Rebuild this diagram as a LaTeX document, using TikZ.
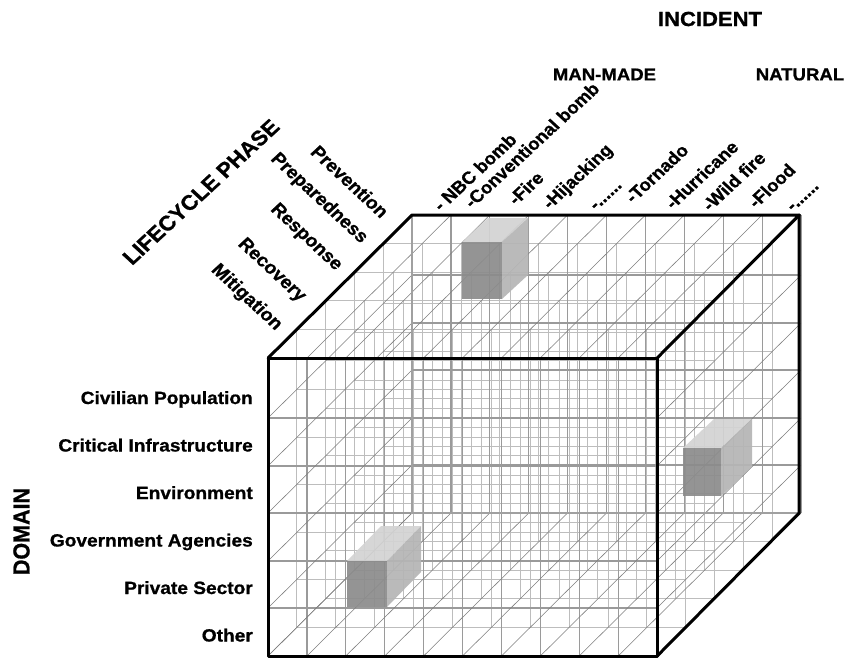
\documentclass[tikz,border=0pt]{standalone}
\usepackage{fontspec}
\setmainfont[BoldFeatures={FakeBold=0.9}]{Liberation Sans}
\definecolor{gridfb}{HTML}{9A9A9A}
\definecolor{gridin}{HTML}{BDBDBD}
\definecolor{griddg}{HTML}{7E7E7E}
\definecolor{hidden}{HTML}{A0A0A0}
\definecolor{boxfront}{HTML}{8C8C8C}
\definecolor{boxside}{HTML}{B5B5B5}
\definecolor{boxtop}{HTML}{D3D3D3}
\tikzset{
  fbline/.style={draw=gridfb, line width=1.2pt},
  inline/.style={draw=gridin, line width=1pt},
  dgline/.style={draw=griddg, line width=0.55pt},
  hiddenedge/.style={draw=hidden, line width=2.2pt},
  cubeedge/.style={draw=black, line width=3pt, line join=round, line cap=round},
  lbl/.style={inner sep=0pt, text=black},
  domlbl/.style={lbl, anchor=base east, font=\fontsize{17.7}{20}\selectfont\bfseries},
  inclbl/.style={lbl, anchor=base west, rotate=45, font=\fontsize{17.4}{20}\selectfont\bfseries},
  phlbl/.style={lbl, anchor=center, rotate=-45, font=\fontsize{18}{21}\selectfont\bfseries},
  headlbl/.style={lbl, anchor=center, font=\fontsize{17.2}{20}\selectfont\bfseries},
  bigflbl/.style={lbl, anchor=center, font=\fontsize{21}{24}\selectfont\bfseries},
  bxf/.style={fill=boxfront, fill opacity=0.93},
  bxs/.style={fill=boxside, fill opacity=0.93},
  bxt/.style={fill=boxtop, fill opacity=0.93}
}
\begin{document}
\begin{tikzpicture}[x=0.925926pt, y=-1pt, xscale=1.08, transform shape]
\useasboundingbox (0,0) rectangle (849,658);
% cube corners
\coordinate (FTL) at (268,358);
\coordinate (FTR) at (657,358);
\coordinate (FBL) at (268,656);
\coordinate (FBR) at (657,656);
\coordinate (BTL) at (412,215);
\coordinate (BTR) at (799,215);
\coordinate (BBL) at (412,513);
\coordinate (BBR) at (799,513);

% interior planes (lighter)
\foreach \d in {1,...,4}{
  \foreach \i in {0,...,10}{
    \draw[inline] ({268+38.9*\i+28.8*\d},{358-28.6*\d}) -- ++(0,298);
  }
  \foreach \yy in {358,418,466,513,561,608,656}{
    \draw[inline] ({268+28.8*\d},{\yy-28.6*\d}) -- ++(389,0);
  }
}
% front and back planes
\foreach \d in {0,5}{
  \foreach \i in {0,...,10}{
    \draw[fbline] ({268+38.9*\i+28.8*\d},{358-28.6*\d}) -- ++(0,298);
  }
  \foreach \yy in {358,418,466,513,561,608,656}{
    \draw[fbline] ({268+28.8*\d},{\yy-28.6*\d}) -- ++(389,0);
  }
}
% depth lines on top, bottom, left, right faces
\foreach \i in {0,...,10}{
  \draw[dgline] ({268+38.9*\i},358) -- ++(144,-143);
  \draw[dgline] ({268+38.9*\i},656) -- ++(144,-143);
}
\foreach \yy in {358,418,466,513,561,608,656}{
  \draw[dgline] (268,\yy) -- ++(144,-143);
  \draw[dgline] (657,\yy) -- ++(144,-143);
}
% hidden edges
\draw[hiddenedge] (BTL) -- (BBL) -- (BBR);

% boxes
\fill[bxt] (462,242) -- (502,242) -- (528,218) -- (488,218) -- cycle;
\fill[bxs] (502,242) -- (528,218) -- (528,275) -- (502,299) -- cycle;
\fill[bxf] (462,242) rectangle (502,299);

\fill[bxt] (683,448) -- (721,448) -- (752,419) -- (714,419) -- cycle;
\fill[bxs] (721,448) -- (752,419) -- (752,467) -- (721,496) -- cycle;
\fill[bxf] (683,448) rectangle (721,496);

\fill[bxt] (347,561) -- (387,561) -- (421,526) -- (381,526) -- cycle;
\fill[bxs] (387,561) -- (421,526) -- (421,572) -- (387,607) -- cycle;
\fill[bxf] (347,561) rectangle (387,607);

% cube outline
\draw[cubeedge] (FTL) rectangle (FBR);
\draw[cubeedge] (FTL) -- (BTL) -- (BTR) -- (FTR);
\draw[cubeedge] (BTR) -- (BBR) -- (FBR);

% domain labels
\node[domlbl] (d1) at (253,404) {Civilian Population};
\node[domlbl] (d2) at (253,451.5) {Critical Infrastructure};
\node[domlbl] (d3) at (253,499) {Environment};
\node[domlbl] (d4) at (253,546.5) {Government Agencies};
\node[domlbl] (d5) at (253,594) {Private Sector};
\node[domlbl] (d6) at (253,641.5) {Other};
\node[bigflbl, rotate=90, font=\fontsize{21.5}{24}\selectfont\bfseries] (domain) at (21.5,531.5) {DOMAIN};

% incident labels
\node[inclbl] (i1) at (441,212) {- NBC bomb};
\node[inclbl] (i2) at (472,209) {-Conventional bomb};
\node[inclbl] (i3) at (516,206) {-Fire};
\node[inclbl] (i4) at (550,210) {-Hijacking};
\node[inclbl] (i5) at (596,211) {-......};
\node[inclbl] (i6) at (633,204) {-Tornado};
\node[inclbl] (i7) at (673,210) {-Hurricane};
\node[inclbl] (i8) at (710,212) {-Wild fire};
\node[inclbl] (i9) at (756,209) {-Flood};
\node[inclbl] (i10) at (793,212) {-......};
\node[bigflbl, font=\fontsize{20.4}{24}\selectfont\bfseries] (incident) at (710,19) {INCIDENT};
\node[headlbl] (manmade) at (604.5,74.5) {MAN-MADE};
\node[headlbl] (natural) at (800,74.5) {NATURAL};

% lifecycle labels
\node[phlbl] (p1) at (350,181.5) {Prevention};
\node[phlbl] (p2) at (319,198.5) {Preparedness};
\node[phlbl] (p3) at (306,237.5) {Response};
\node[phlbl] (p4) at (271.5,270.5) {Recovery};
\node[phlbl] (p5) at (246.5,297.5) {Mitigation};
\node[bigflbl, rotate=45] (phase) at (201,192) {LIFECYCLE PHASE};
\end{tikzpicture}
\end{document}
